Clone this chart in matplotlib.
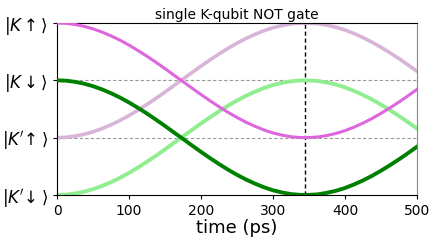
import matplotlib
matplotlib.use("Agg")
import matplotlib.pyplot as plt

# time samples (ps)
time_ps = [0, 12.5, 25, 37.5, 50, 62.5, 75, 87.5, 100, 112.5, 125, 137.5,
           150, 162.5, 175, 187.5, 200, 212.5, 225, 237.5, 250, 262.5, 275,
           287.5, 300, 312.5, 325, 337.5, 350, 362.5, 375, 387.5, 400, 412.5,
           425, 437.5, 450, 462.5, 475, 487.5, 500]
# population remaining in the initially occupied state
pop_initial = [1.0, 0.997, 0.987, 0.971, 0.949, 0.921, 0.888, 0.850, 0.807,
               0.760, 0.710, 0.657, 0.602, 0.545, 0.489, 0.432, 0.376, 0.322,
               0.270, 0.221, 0.176, 0.135, 0.099, 0.067, 0.041, 0.022, 0.008,
               0.001, 0.001, 0.006, 0.019, 0.037, 0.061, 0.092, 0.127, 0.167,
               0.212, 0.260, 0.311, 0.365, 0.421]
pop_target = [1 - p for p in pop_initial]

# curves placed on the state axis
K_up = [1 + 2 * p for p in pop_initial]          # |K up> -> |K' up>
Kp_up = [1 + 2 * p for p in pop_target]          # |K' up> -> |K up>
K_down = [2 * p for p in pop_initial]            # |K down> -> |K' down>
Kp_down = [2 * p for p in pop_target]            # |K' down> -> |K down>

state_ticks = [0, 1, 2, 3]
state_labels = [r"$|K^{\prime}\!\downarrow\rangle$", r"$|K^{\prime}\!\uparrow\rangle$",
                r"$|K\downarrow\rangle$", r"$|K\uparrow\rangle$"]
gate_time = 345
title = "single K-qubit NOT gate"

fig = plt.figure(figsize=(4.36, 2.42), dpi=100)
ax = fig.add_axes([57 / 436, 1 - 195 / 242, 360 / 436, 172 / 242])

for lvl in [1, 2]:
    ax.axhline(lvl, color="#999999", ls="--", lw=0.8, dashes=(3, 2), zorder=1)
ax.axvline(gate_time, color="black", ls="--", lw=1.0, dashes=(3, 2), zorder=1)

ax.plot(time_ps, Kp_up, color="#d8b4d8", lw=2.6, zorder=2)
ax.plot(time_ps, Kp_down, color="#90ee90", lw=2.8, zorder=2)
ax.plot(time_ps, K_up, color="#dd66dd", lw=2.2, zorder=3)
ax.plot(time_ps, K_down, color="#008000", lw=2.8, zorder=3)

ax.set_xlim(0, 500)
ax.set_ylim(0, 3)
ax.set_xticks([0, 100, 200, 300, 400, 500])
ax.tick_params(axis="x", labelsize=10, length=3)
ax.set_yticks(state_ticks)
ax.set_yticklabels(state_labels, fontsize=12)
ax.tick_params(axis="y", length=3)
ax.set_xlabel("time (ps)", fontsize=13, labelpad=1)
ax.set_title(title, fontsize=10, pad=3)
ax.spines["right"].set_color("#888888")

fig.savefig("out.png", dpi=100)
